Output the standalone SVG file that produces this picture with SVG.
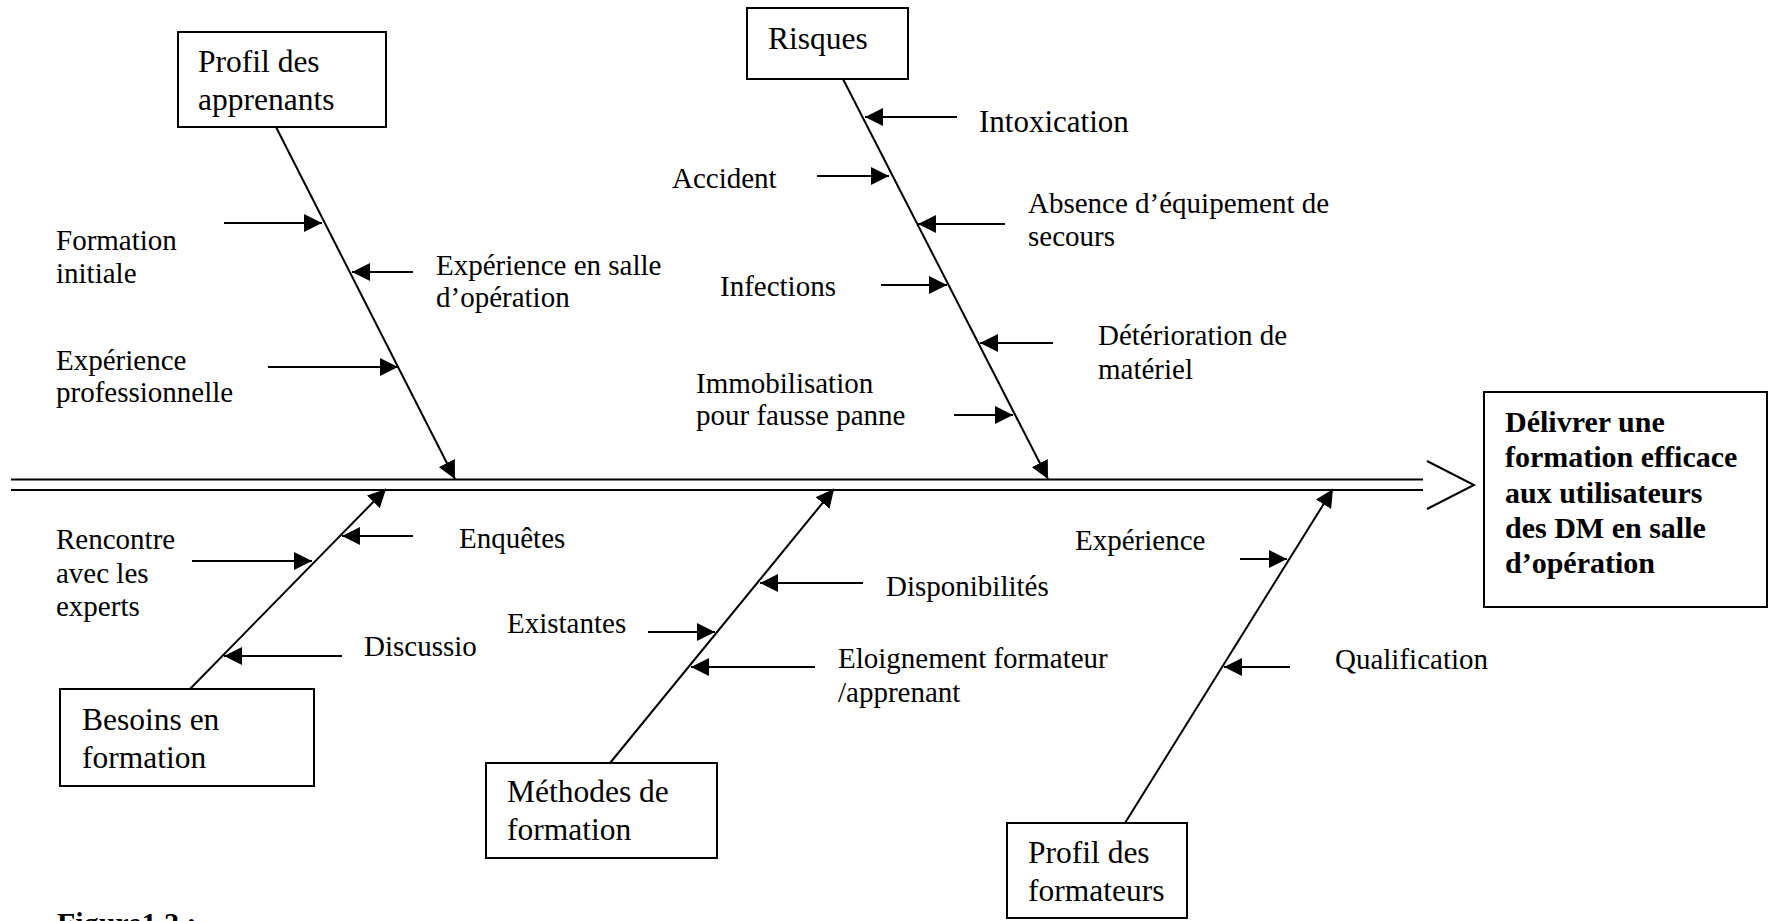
<svg xmlns="http://www.w3.org/2000/svg" width="1787" height="921" viewBox="0 0 1787 921">
<defs>
<marker id="ah" markerUnits="userSpaceOnUse" markerWidth="18" markerHeight="18" refX="18" refY="9" orient="auto">
<path d="M0,0 L18,9 L0,18 z" fill="#000"/>
</marker>
<style>
text{font-family:"Liberation Serif","Times New Roman",serif;fill:#000}
.box{fill:#fff;stroke:#000;stroke-width:2}
.bt{font-size:31.5px}
.lb{font-size:29px}
.main{font-size:30px;font-weight:bold}
.ln{stroke:#000;stroke-width:2;fill:none}
.ar{stroke:#000;stroke-width:2;fill:none;marker-end:url(#ah)}
</style>
</defs>
<rect width="1787" height="921" fill="#fff"/>

<g id="connectors">
<line class="ln" x1="11" y1="479.5" x2="1423" y2="479.5" stroke-width="2.5"/>
<line class="ln" x1="11" y1="490" x2="1423" y2="490" stroke-width="2.5"/>
<polyline class="ln" points="1427,461 1474,485 1427,509" stroke-width="2.5"/>
<line class="ar" x1="276" y1="127" x2="455" y2="479"/>
<line class="ar" x1="843" y1="79" x2="1048" y2="479"/>
<line class="ar" x1="190" y1="689" x2="386" y2="489"/>
<line class="ar" x1="610" y1="763" x2="834" y2="489"/>
<line class="ar" x1="1125" y1="823" x2="1333" y2="489"/>
<line class="ar" x1="224" y1="223" x2="322" y2="223"/>
<line class="ar" x1="413" y1="272" x2="352" y2="272"/>
<line class="ar" x1="268" y1="367" x2="398" y2="367"/>
<line class="ar" x1="957" y1="117" x2="865" y2="117"/>
<line class="ar" x1="817" y1="176" x2="889" y2="176"/>
<line class="ar" x1="1005" y1="224" x2="918" y2="224"/>
<line class="ar" x1="881" y1="285" x2="947" y2="285"/>
<line class="ar" x1="1053" y1="343" x2="980" y2="343"/>
<line class="ar" x1="954" y1="415" x2="1013" y2="415"/>
<line class="ar" x1="413" y1="536" x2="342" y2="536"/>
<line class="ar" x1="192" y1="561" x2="312" y2="561"/>
<line class="ar" x1="342" y1="656" x2="224" y2="656"/>
<line class="ar" x1="863" y1="583" x2="760" y2="583"/>
<line class="ar" x1="648" y1="632" x2="715" y2="632"/>
<line class="ar" x1="815" y1="667" x2="691" y2="667"/>
<line class="ar" x1="1240" y1="559" x2="1287" y2="559"/>
<line class="ar" x1="1290" y1="667" x2="1224" y2="667"/>
</g>

<g id="effet">
<rect class="box" x="1484" y="392" width="283" height="215"/>
<text class="main" x="1505" y="432">Délivrer une</text>
<text class="main" x="1505" y="467">formation efficace</text>
<text class="main" x="1505" y="503">aux utilisateurs</text>
<text class="main" x="1505" y="538">des DM en salle</text>
<text class="main" x="1505" y="573">d’opération</text>
</g>

<g id="profil-apprenants">
<rect class="box" x="178" y="32" width="208" height="95"/>
<text class="bt" x="198" y="72">Profil des</text>
<text class="bt" x="198" y="110">apprenants</text>
</g>

<g id="risques">
<rect class="box" x="747" y="8" width="161" height="71"/>
<text class="bt" x="768" y="49">Risques</text>
</g>

<g id="besoins">
<rect class="box" x="60" y="689" width="254" height="97"/>
<text class="bt" x="82" y="730">Besoins en</text>
<text class="bt" x="82" y="768">formation</text>
</g>

<g id="methodes">
<rect class="box" x="486" y="763" width="231" height="95"/>
<text class="bt" x="507" y="802">Méthodes de</text>
<text class="bt" x="507" y="840">formation</text>
</g>

<g id="profil-formateurs">
<rect class="box" x="1007" y="823" width="180" height="95"/>
<text class="bt" x="1028" y="863">Profil des</text>
<text class="bt" x="1028" y="901">formateurs</text>
</g>

<g id="labels">
<text class="lb" x="56" y="250">Formation</text>
<text class="lb" x="56" y="283">initiale</text>
<text class="lb" x="436" y="275">Expérience en salle</text>
<text class="lb" x="436" y="307">d’opération</text>
<text class="lb" x="56" y="370">Expérience</text>
<text class="lb" x="56" y="402">professionnelle</text>
<text class="lb" x="979" y="132" style="font-size:31px">Intoxication</text>
<text class="lb" x="672" y="188">Accident</text>
<text class="lb" x="1028" y="213">Absence d’équipement de</text>
<text class="lb" x="1028" y="246">secours</text>
<text class="lb" x="720" y="296">Infections</text>
<text class="lb" x="1098" y="345">Détérioration de</text>
<text class="lb" x="1098" y="379">matériel</text>
<text class="lb" x="696" y="393">Immobilisation</text>
<text class="lb" x="696" y="425">pour fausse panne</text>
<text class="lb" x="56" y="549">Rencontre</text>
<text class="lb" x="56" y="583">avec les</text>
<text class="lb" x="56" y="616">experts</text>
<text class="lb" x="459" y="548">Enquêtes</text>
<text class="lb" x="364" y="656">Discussio</text>
<text class="lb" x="507" y="633">Existantes</text>
<text class="lb" x="886" y="596">Disponibilités</text>
<text class="lb" x="838" y="668">Eloignement formateur</text>
<text class="lb" x="838" y="702">/apprenant</text>
<text class="lb" x="1075" y="550">Expérience</text>
<text class="lb" x="1335" y="669">Qualification</text>
</g>

<g id="caption">
<text class="main" x="57" y="933">Figure1.2 :</text>
</g>
</svg>
